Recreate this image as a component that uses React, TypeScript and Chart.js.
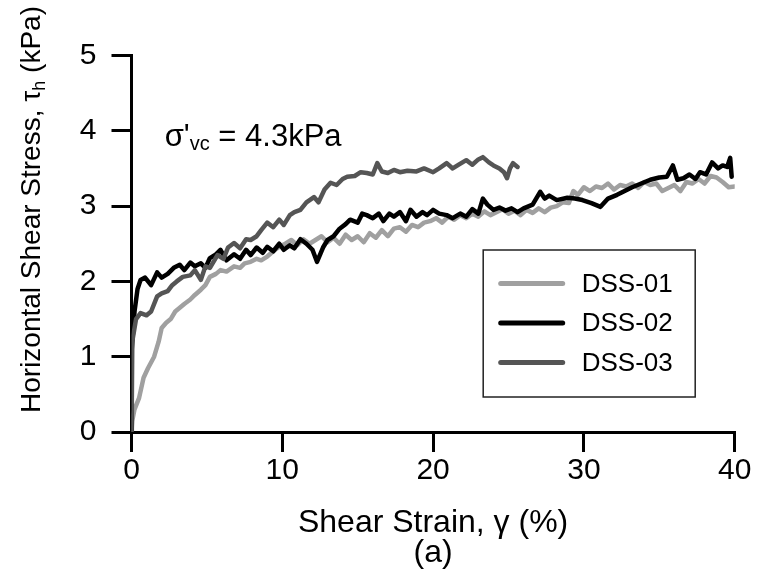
import React, { useEffect, useRef } from 'react';
import { Chart, registerables } from 'chart.js';

Chart.register(...registerables);

const FONT = '"Liberation Sans", Arial, Helvetica, sans-serif';

const seriesLabels = ['DSS-01', 'DSS-02', 'DSS-03'];
const seriesColors = ['#a0a0a0', '#000000', '#555555'];

const xTitle = 'Shear Strain, γ (%)';
const xSubTitle = '(a)';
const yTitleMain = 'Horizontal Shear Stress, τ';
const yTitleSub = 'h';
const yTitleEnd = ' (kPa)';
const annotMain = 'σ\'';
const annotSub = 'vc';
const annotEnd = ' = 4.3kPa';
const annotStrain = 2.2;
const annotStress = 3.8;

const xMin = 0, xMax = 40, xStep = 10;
const yMin = 0, yMax = 5, yStep = 1;

const dss01Strain = [0, 0.05, 0.2, 0.5, 0.8, 1.1, 1.5, 1.8, 2.0, 2.3, 2.6, 2.9, 3.2, 3.5, 3.9, 4.2, 4.6, 4.9, 5.2, 5.6, 5.9, 6.3, 6.8, 7.2, 7.5, 7.9, 8.3, 8.6, 9.0, 9.4, 9.8, 10.2, 10.6, 11.0, 11.4, 11.8, 12.2, 12.6, 13.0, 13.4, 13.8, 14.2, 14.6, 15.0, 15.4, 15.8, 16.2, 16.6, 17.0, 17.4, 17.8, 18.2, 18.6, 19.0, 19.4, 19.8, 20.2, 20.6, 21.0, 21.4, 21.8, 22.2, 22.6, 23.0, 23.4, 23.8, 24.2, 24.6, 25.0, 25.4, 25.8, 26.2, 26.6, 27.0, 27.4, 27.8, 28.2, 28.6, 29.0, 29.3, 29.6, 30.0, 30.4, 30.8, 31.2, 31.6, 32.0, 32.4, 32.8, 33.2, 33.6, 34.0, 34.4, 34.8, 35.2, 35.6, 36.0, 36.4, 36.8, 37.2, 37.6, 38.0, 38.4, 38.8, 39.2, 39.6, 40.0];
const dss01Stress = [0, 0.15, 0.3, 0.45, 0.72, 0.85, 1.0, 1.2, 1.38, 1.45, 1.5, 1.6, 1.65, 1.7, 1.76, 1.82, 1.89, 1.95, 2.06, 2.1, 2.15, 2.13, 2.2, 2.18, 2.24, 2.26, 2.3, 2.28, 2.33, 2.4, 2.46, 2.5, 2.55, 2.48, 2.56, 2.5, 2.55, 2.6, 2.52, 2.58, 2.5, 2.62, 2.55, 2.6, 2.52, 2.64, 2.58, 2.68, 2.6, 2.7, 2.72, 2.66, 2.75, 2.72, 2.78, 2.8, 2.84, 2.78, 2.86, 2.82, 2.88, 2.84, 2.9, 2.86, 2.93, 2.88, 2.92, 2.96, 2.9, 2.94, 2.88, 2.95, 2.91, 2.97, 2.92, 2.98, 3.0, 3.05, 3.04, 3.2, 3.15, 3.25, 3.2, 3.26, 3.24, 3.3, 3.22, 3.28, 3.26, 3.3, 3.24, 3.32, 3.28, 3.3, 3.2, 3.24, 3.28, 3.2, 3.32, 3.3, 3.36, 3.3, 3.4, 3.38, 3.32, 3.25, 3.26];

const dss02Strain = [0, 0.02, 0.2, 0.4, 0.6, 0.9, 1.3, 1.7, 2.0, 2.4, 2.8, 3.2, 3.5, 3.9, 4.2, 4.6, 4.9, 5.2, 5.6, 5.9, 6.3, 6.8, 7.2, 7.6, 7.9, 8.3, 8.7, 9.0, 9.4, 9.8, 10.1, 10.5, 10.8, 11.2, 11.6, 12.0, 12.3, 12.7, 13.0, 13.4, 13.8, 14.2, 14.5, 15.0, 15.3, 15.6, 16.0, 16.4, 16.7, 17.1, 17.4, 17.8, 18.2, 18.5, 18.9, 19.3, 19.6, 20.0, 20.4, 20.9, 21.3, 21.8, 22.2, 22.6, 23.0, 23.3, 23.6, 24.0, 24.4, 24.8, 25.2, 25.6, 26.0, 26.6, 27.1, 27.4, 27.7, 28.2, 28.9, 29.4, 29.9, 30.5, 31.1, 31.6, 32.2, 32.7, 33.2, 33.8, 34.4, 35.0, 35.5, 35.9, 36.2, 36.6, 37.0, 37.4, 37.7, 38.1, 38.5, 38.9, 39.2, 39.5, 39.7, 39.8];
const dss02Stress = [0, 1.1, 1.6, 1.9, 2.02, 2.05, 1.95, 2.12, 2.05, 2.1, 2.18, 2.22, 2.15, 2.25, 2.2, 2.24, 2.18, 2.31, 2.36, 2.42, 2.28, 2.36, 2.3, 2.42, 2.35, 2.45, 2.38, 2.46, 2.4, 2.5, 2.42, 2.48, 2.44, 2.56, 2.5, 2.42, 2.26, 2.45, 2.55, 2.6, 2.7, 2.76, 2.82, 2.78, 2.9, 2.88, 2.84, 2.9, 2.8, 2.9, 2.86, 2.92, 2.8, 2.95, 2.86, 2.92, 2.88, 2.95, 2.9, 2.88, 2.84, 2.9, 2.86, 2.96, 2.9, 3.1, 3.02, 2.95, 2.98, 2.94, 2.97, 2.92, 2.97, 3.02, 3.19, 3.1, 3.14, 3.08, 3.11, 3.1, 3.08, 3.04, 2.99, 3.1, 3.15, 3.2, 3.25, 3.3, 3.35, 3.38, 3.39, 3.54, 3.35, 3.37, 3.42, 3.36, 3.45, 3.42, 3.58, 3.5, 3.54, 3.52, 3.64, 3.39];

const dss03Strain = [0, 0.05, 0.3, 0.6, 1.0, 1.3, 1.7, 2.0, 2.4, 2.7, 3.0, 3.4, 3.9, 4.2, 4.6, 4.9, 5.2, 5.7, 6.1, 6.4, 6.8, 7.2, 7.6, 7.9, 8.3, 8.6, 9.0, 9.4, 9.8, 10.1, 10.5, 10.8, 11.2, 11.6, 12.1, 12.4, 12.8, 13.2, 13.6, 14.0, 14.3, 14.8, 15.2, 15.6, 16.0, 16.3, 16.6, 17.0, 17.4, 17.8, 18.3, 18.9, 19.4, 20.0, 20.4, 20.9, 21.3, 21.7, 22.2, 22.6, 23.0, 23.3, 23.7, 24.0, 24.4, 24.7, 24.9, 25.1, 25.3, 25.6];
const dss03Stress = [0, 1.2, 1.5, 1.58, 1.55, 1.6, 1.8, 1.84, 1.87, 1.95, 2.0, 2.06, 2.08, 2.15, 2.02, 2.2, 2.18, 2.35, 2.3, 2.45, 2.51, 2.44, 2.56, 2.55, 2.6, 2.68, 2.78, 2.72, 2.82, 2.75, 2.88, 2.92, 2.95, 3.05, 3.12, 3.05, 3.22, 3.31, 3.28, 3.36, 3.39, 3.4, 3.45, 3.44, 3.42, 3.57, 3.46, 3.44, 3.48, 3.45, 3.47, 3.46, 3.5, 3.45, 3.5, 3.57, 3.5, 3.55, 3.61, 3.55, 3.62, 3.65, 3.58, 3.54, 3.5, 3.45, 3.37, 3.5, 3.57, 3.52];

const toPoints = (xs: number[], ys: number[]) => xs.map((x, i) => ({ x, y: ys[i] }));

const decorPlugin = {
  id: 'decor',
  afterDraw(chart: any) {
    const ctx = chart.ctx as CanvasRenderingContext2D;
    const xs = chart.scales.x;
    const ys = chart.scales.y;
    const area = chart.chartArea;
    ctx.save();
    ctx.fillStyle = '#000';

    // Y axis title (rotated, with subscript)
    ctx.save();
    ctx.font = `28px ${FONT}`;
    const w1 = ctx.measureText(yTitleMain).width;
    const w3 = ctx.measureText(yTitleEnd).width;
    ctx.font = `18px ${FONT}`;
    const w2 = ctx.measureText(yTitleSub).width;
    const total = w1 + w2 + w3;
    ctx.translate(40, 6 + total);
    ctx.rotate(-Math.PI / 2);
    ctx.textBaseline = 'alphabetic';
    ctx.textAlign = 'left';
    ctx.font = `28px ${FONT}`;
    ctx.fillText(yTitleMain, 0, 0);
    ctx.font = `18px ${FONT}`;
    ctx.fillText(yTitleSub, w1, 5);
    ctx.font = `28px ${FONT}`;
    ctx.fillText(yTitleEnd, w1 + w2, 0);
    ctx.restore();

    // Annotation
    let ax = xs.getPixelForValue(annotStrain);
    const ay = ys.getPixelForValue(annotStress);
    ctx.textBaseline = 'alphabetic';
    ctx.textAlign = 'left';
    ctx.font = `31px ${FONT}`;
    ctx.fillText(annotMain, ax, ay);
    ax += ctx.measureText(annotMain).width;
    ctx.font = `20px ${FONT}`;
    ctx.fillText(annotSub, ax, ay + 4);
    ax += ctx.measureText(annotSub).width;
    ctx.font = `31px ${FONT}`;
    ctx.fillText(annotEnd, ax, ay);

    // Legend box
    const bx = area.right - 252;
    const by = area.top + 194;
    const bw = 212;
    const bh = 147;
    ctx.lineWidth = 1.5;
    ctx.strokeStyle = '#222';
    ctx.strokeRect(bx + 0.5, by + 0.5, bw, bh);
    const rowGap = 39.5;
    chart.data.datasets.forEach((ds: any, i: number) => {
      const ry = by + 34 + i * rowGap;
      ctx.beginPath();
      ctx.lineWidth = 5;
      ctx.lineCap = 'round';
      ctx.strokeStyle = ds.borderColor;
      ctx.moveTo(bx + 18, ry);
      ctx.lineTo(bx + 80, ry);
      ctx.stroke();
      ctx.font = `26px ${FONT}`;
      ctx.textBaseline = 'middle';
      ctx.fillStyle = '#000';
      ctx.fillText(ds.label, bx + 99, ry + 1);
    });
    ctx.restore();
  },
};

export default function App() {
  const canvasRef = useRef<HTMLCanvasElement>(null);

  useEffect(() => {
    const canvas = canvasRef.current;
    if (!canvas) return;
    const datasets = [
      { label: seriesLabels[0], data: toPoints(dss01Strain, dss01Stress), borderColor: seriesColors[0], order: 2 },
      { label: seriesLabels[1], data: toPoints(dss02Strain, dss02Stress), borderColor: seriesColors[1], order: 1 },
      { label: seriesLabels[2], data: toPoints(dss03Strain, dss03Stress), borderColor: seriesColors[2], order: 0 },
    ].map((d) => ({
      ...d,
      backgroundColor: d.borderColor,
      borderWidth: 4.5,
      pointRadius: 0,
      tension: 0,
      fill: false,
      borderJoinStyle: 'round' as const,
      borderCapStyle: 'round' as const,
    }));

    const tickFont = { family: FONT, size: 30 };
    const chart = new Chart(canvas, {
      type: 'line',
      data: { datasets },
      options: {
        responsive: false,
        animation: false,
        devicePixelRatio: 1,
        events: [],
        layout: { padding: { left: 0, right: 23.3, top: 55.5, bottom: 0 } },
        plugins: { legend: { display: false }, tooltip: { enabled: false } },
        scales: {
          x: {
            type: 'linear',
            min: xMin,
            max: xMax,
            afterFit: (s: any) => { s.height = 151; s.paddingLeft = 0; s.paddingRight = 0; },
            ticks: { stepSize: xStep, color: '#000', font: tickFont, padding: 1, maxRotation: 0 },
            grid: { drawOnChartArea: false, drawTicks: true, tickLength: 20, color: '#000', lineWidth: 3 },
            border: { display: true, color: '#000', width: 3 },
            title: {
              display: true,
              text: [xTitle, xSubTitle],
              color: '#000',
              font: { family: FONT, size: 32, lineHeight: '30px' },
              padding: { top: 0, bottom: 15 },
            },
          },
          y: {
            type: 'linear',
            min: yMin,
            max: yMax,
            afterFit: (s: any) => { s.width = 131.5; s.paddingTop = 0; s.paddingBottom = 0; },
            ticks: { stepSize: yStep, color: '#000', font: tickFont, padding: 15 },
            grid: { drawOnChartArea: false, drawTicks: true, tickLength: 20, color: '#000', lineWidth: 3 },
            border: { display: true, color: '#000', width: 3 },
          },
        },
      },
      plugins: [decorPlugin],
    } as any);
    return () => chart.destroy();
  }, []);

  return (
    <div style={{ width: 758, height: 583, background: '#fff' }}>
      <style>{'body{margin:0;background:#fff}'}</style>
      <canvas ref={canvasRef} width={758} height={583} style={{ display: 'block' }} />
    </div>
  );
}
